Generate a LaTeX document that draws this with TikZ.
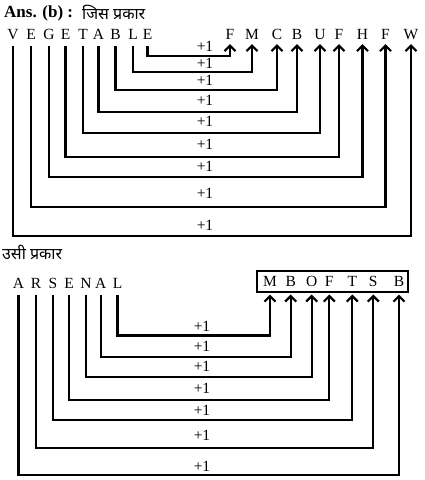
\documentclass[tikz,border=0pt]{standalone}
\usepackage{fontspec}
\setmainfont{Liberation Serif}
\newfontfamily\deva[Script=Devanagari]{Noto Sans}
\usetikzlibrary{arrows.meta}
\tikzset{
  letter/.style={font=\fontsize{15.5}{15.5}\selectfont, inner sep=0pt, text height=10.5pt, text depth=0pt, anchor=south},
  plus/.style={font=\fontsize{15.5}{15.5}\selectfont, inner sep=0pt},
  conn/.style={line width=2.2pt, -{Straight Barb[length=5.5pt,width=11pt,line width=2.2pt]}},
  boxstyle/.style={draw, line width=2.2pt, inner sep=0pt, minimum width=151pt, minimum height=21pt},
  title/.style={inner sep=0pt, anchor=west}
}
\newcommand{\linkit}[4]{\draw[conn] ([yshift=-6pt]#1.south) -- (#1.south |- 0,#3) -| ([yshift=-#4pt]#2.south);}
\begin{document}
\begin{tikzpicture}[x=1pt,y=-1pt]
\useasboundingbox (0,0) rectangle (425,480);
% titles
\node[title] (ans) at (4,13) {\fontsize{17}{17}\selectfont\bfseries Ans. (b) :};
\node[title] (jis) at (82,12) {\fontsize{16}{16}\selectfont\deva जिस प्रकार};
\node[title] (usi) at (2,252) {\fontsize{16}{16}\selectfont\deva उसी प्रकार};
% top source letters
\foreach \n/\l/\x in {s1/V/13, s2/E/31, s3/G/49, s4/E/65.5, s5/T/83, s6/A/98.5, s7/B/115.5, s8/L/133, s9/E/147.5}
  \node[letter] (\n) at (\x,40) {\l};
% top target letters
\foreach \n/\l/\x in {t1/F/230, t2/M/252, t3/C/277, t4/B/297, t5/U/320, t6/F/339, t7/H/362.5, t8/F/385.5, t9/W/411}
  \node[letter] (\n) at (\x,40) {\l};
\linkit{s9}{t1}{56}{4}
\linkit{s8}{t2}{71.7}{4}
\linkit{s7}{t3}{90}{4}
\linkit{s6}{t4}{112.3}{4}
\linkit{s5}{t5}{133.3}{4}
\linkit{s4}{t6}{156.7}{4}
\linkit{s3}{t7}{177.3}{4}
\linkit{s2}{t8}{206.7}{4}
\linkit{s1}{t9}{236}{4}
\foreach \n/\y in {p1/46, p2/63, p3/80, p4/100.7, p5/121.7, p6/144, p7/166.7, p8/193, p9/225}
  \node[plus] (\n) at (205,\y) {+1};
% bottom source letters
\foreach \n/\l/\x in {a1/A/18.5, a2/R/36, a3/S/53, a4/E/69, a5/N/86, a6/A/100.7, a7/L/117.5}
  \node[letter] (\n) at (\x,288.5) {\l};
% bottom target letters
\foreach \n/\l/\x in {b1/M/270, b2/B/290.7, b3/O/311.7, b4/F/329.3, b5/T/352.3, b6/S/373.3, b7/B/399}
  \node[letter] (\n) at (\x,286.5) {\l};
\node[boxstyle] (box) at (332.8,281.2) {};
\linkit{a7}{b1}{335.5}{8}
\linkit{a6}{b2}{357}{8}
\linkit{a5}{b3}{377}{8}
\linkit{a4}{b4}{400}{8}
\linkit{a3}{b5}{420}{8}
\linkit{a2}{b6}{447.7}{8}
\linkit{a1}{b7}{475}{8}
\foreach \n/\y in {q1/326.7, q2/346.7, q3/366.7, q4/388.3, q5/410, q6/435, q7/466}
  \node[plus] (\n) at (202,\y) {+1};
\end{tikzpicture}
\end{document}
